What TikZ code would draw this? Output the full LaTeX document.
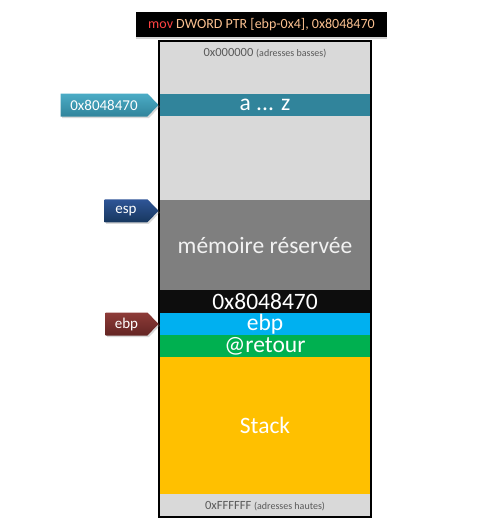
\documentclass[tikz,border=0pt]{standalone}
\usepackage{fontspec}
\setmainfont{Carlito}
\usepackage{xcolor}
\usepackage{tikz}
\usetikzlibrary{shapes.symbols,shadows}
\definecolor{colbg}{HTML}{D9D9D9}
\definecolor{addr}{HTML}{595959}
\definecolor{teal}{HTML}{31849B}
\definecolor{tealtop}{HTML}{4BACC6}
\definecolor{resv}{HTML}{7F7F7F}
\definecolor{val}{HTML}{0D0D0D}
\definecolor{sky}{HTML}{00B0F0}
\definecolor{leaf}{HTML}{00B050}
\definecolor{amber}{HTML}{FFC000}
\definecolor{opred}{HTML}{FF4343}
\definecolor{peach}{HTML}{FAC090}
\definecolor{navy}{HTML}{17375E}
\definecolor{navytop}{HTML}{2F5597}
\definecolor{wine}{HTML}{632523}
\definecolor{winetop}{HTML}{8E3B38}
\tikzset{
  band/.style={rectangle, inner sep=0pt, minimum width=212pt, text=white,
    font=\fontsize{23.5}{24}\selectfont},
  addrlab/.style={text=addr, font=\fontsize{12.5}{13}\selectfont},
  ptr/.style={signal, signal to=east, signal pointer angle=92, inner sep=0pt,
    minimum height=23pt, text=white, font=\fontsize{15}{16}\selectfont,
    drop shadow={opacity=0.3, shadow xshift=1.5pt, shadow yshift=-1.5pt}},
  column/.style={draw=black, line width=1.2pt}
}

\begin{document}
\begin{tikzpicture}[x=1pt,y=-1pt]
  \useasboundingbox (0,0) rectangle (500,530);
  % instruction
  \node[fill=black, minimum width=251pt, minimum height=25pt, inner sep=0pt,
    font=\fontsize{14}{15}\selectfont,
    drop shadow={opacity=0.35, shadow xshift=0pt, shadow yshift=-2pt}]
    (instr) at (261.5,24.5) {\textcolor{opred}{mov} \textcolor{peach}{DWORD PTR [ebp-0x4], 0x8048470}};
  % memory column
  \fill[colbg] (159,41) rectangle (371,517);
  \node[band, fill=teal, minimum height=22pt] (az) at (265,105) {a ... z};
  \node[band, fill=resv, minimum height=90pt, text=white!95!black] (reserve) at (265,245) {mémoire réservée};
  \node[band, fill=val, minimum height=23pt] (value) at (265,301.5) {0x8048470};
  \node[band, fill=sky, minimum height=22pt] (oldebp) at (265,324) {ebp};
  \node[band, fill=leaf, minimum height=22pt] (ret) at (265,346) {@retour};
  \node[band, fill=amber, minimum height=137pt] (stack) at (265,425.5) {Stack};
  \draw[column] (159,41) rectangle (371,517);
  \node[addrlab] (low) at (265,53) {0x000000 {\fontsize{10}{11}\selectfont(adresses basses)}};
  \node[addrlab] (high) at (265,506.5) {0xFFFFFF {\fontsize{10}{11}\selectfont(adresses hautes)}};
  % pointers
  \node[ptr, minimum width=98pt, top color=tealtop, bottom color=teal, anchor=east]
    (ptrval) at (az.west) {0x8048470};
  \node[ptr, minimum width=54pt, top color=navytop, bottom color=navy, anchor=east]
    (esp) at ([yshift=-11pt]reserve.north west) {esp};
  \node[ptr, minimum width=53pt, top color=winetop, bottom color=wine, anchor=east]
    (ebp) at (oldebp.west) {ebp};
\end{tikzpicture}
\end{document}
